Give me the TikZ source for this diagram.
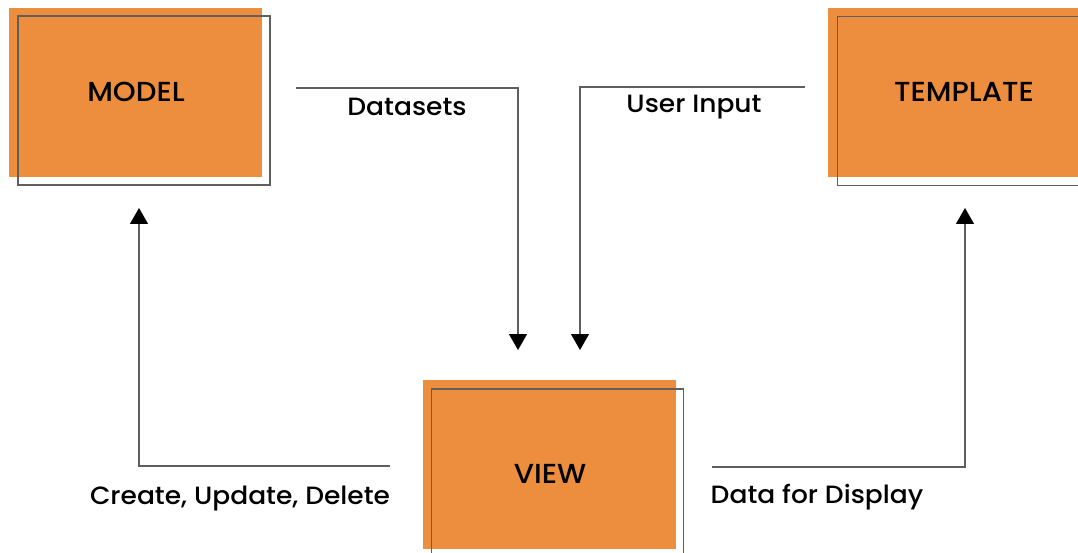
\documentclass[tikz,border=0pt]{standalone}
\usepackage{fontspec}
\setmainfont{Poppins}[UprightFont={* Medium}, FakeStretch=1.06]
\usetikzlibrary{arrows.meta}
\definecolor{mvtorange}{RGB}{236,142,61}
\definecolor{mvtline}{RGB}{95,95,95}

\begin{document}
\begin{tikzpicture}[x=1pt, y=-1pt,
  fillbox/.style = {fill=mvtorange, draw=none, minimum width=253pt, minimum height=169pt, inner sep=0pt},
  framebox/.style = {draw=mvtline, line width=1.2pt, minimum width=252pt, minimum height=169pt, inner sep=0pt},
  boxtext/.style = {anchor=base, inner sep=0pt, font=\fontsize{27.5}{30}\selectfont},
  flowtext/.style = {anchor=base, inner sep=0pt, font=\fontsize{25}{30}\selectfont},
  flow/.style = {draw=mvtline, line width=1.3pt, -{Triangle[width=18pt, length=16pt, color=black]}}]
\useasboundingbox (0,0) rectangle (1078,553);
\clip (0,0) rectangle (1078,553);
% boxes
\node[fillbox] (mfill) at (135.5,92.5) {};
\node[framebox] (mframe) at (144,100.5) {};
\node[boxtext] (model) at (136,102) {MODEL};
\node[fillbox, minimum width=272pt] (tfill) at (964,92.5) {};
\node[framebox] (tframe) at (963.5,101) {};
\node[boxtext] (template) at (964,102) {TEMPLATE};
\node[fillbox] (vfill) at (549.5,464.5) {};
\node[framebox] (vframe) at (557.5,473.5) {};
\node[boxtext] (view) at (550,483) {VIEW};
% connector ends
\coordinate (dsstart) at (296,88);
\coordinate (dsend) at (518,350);
\coordinate (uistart) at (805,87);
\coordinate (uiend) at (580,350);
\coordinate (cudstart) at (390,466);
\coordinate (cudend) at (139,208);
\coordinate (dfdstart) at (712,467);
\coordinate (dfdend) at (965,208);
\draw[flow] (dsstart) -| (dsend);
\draw[flow] (uistart) -| (uiend);
\draw[flow] (cudstart) -| (cudend);
\draw[flow] (dfdstart) -| (dfdend);
% labels
\node[flowtext] (datasets) at (407,116) {Datasets};
\node[flowtext] (userinput) at (694,113) {User Input};
\node[flowtext] (cud) at (240,504) {Create, Update, Delete};
\node[flowtext] (display) at (817,503) {Data for Display};
\end{tikzpicture}
\end{document}
